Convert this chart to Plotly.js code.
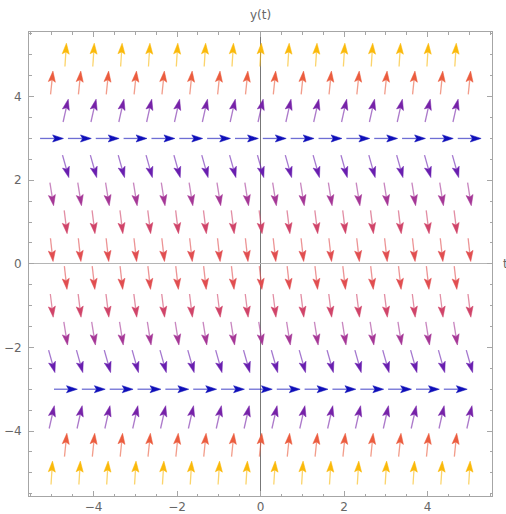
<!DOCTYPE html>
<html>
<head>
<meta charset="utf-8">
<script src="https://cdn.plot.ly/plotly-3.0.1.min.js"></script>
<style>
html,body{margin:0;padding:0;background:#fff;}
#chart{width:506px;height:514px;}
</style>
</head>
<body>
<div id="chart"></div>
<script>
// ---- data ----
// rows of the slope field y' = f(y): row height, slope at that row, staggered (1) or not (0)
const rowY      = [5, 4.333, 3.667, 3, 2.333, 1.667, 1, 0.333, -0.333, -1, -1.667, -2.333, -3, -3.667, -4.333, -5];
const rowSlope  = [16, 9.78, 4.44, 0, -3.56, -6.22, -8, -8.89, -8.89, -8, -6.22, -3.56, 0, 4.44, 9.78, 16];
const rowStagger= [1, 0, 1, 0, 1, 0, 1, 0, 1, 0, 1, 0, 1, 0, 1, 0];
// sample positions along t
const tFull     = [-5, -4.333, -3.667, -3, -2.333, -1.667, -1, -0.333, 0.333, 1, 1.667, 2.333, 3, 3.667, 4.333, 5];
const tShifted  = [-4.667, -4, -3.333, -2.667, -2, -1.333, -0.667, 0, 0.667, 1.333, 2, 2.667, 3.333, 4, 4.667];
// axis ticks
const tickVals  = [-4, -2, 0, 2, 4];

// ---- styles ----
const colorStops = [
  [1.0,  [15, 15, 185]],
  [3.7,  [105, 30, 175]],
  [4.55, [118, 34, 168]],
  [6.3,  [165, 55, 150]],
  [8.06, [208, 68, 105]],
  [8.95, [225, 78, 80]],
  [9.83, [235, 92, 62]],
  [16.03,[250, 185, 10]]
];
function colorFor(m){
  if (m <= colorStops[0][0]) return 'rgb(' + colorStops[0][1].join(',') + ')';
  for (let i = 1; i < colorStops.length; i++){
    if (m <= colorStops[i][0]){
      const a = colorStops[i-1], b = colorStops[i];
      const f = (m - a[0]) / (b[0] - a[0]);
      const c = a[1].map((v, k) => Math.round(v + f * (b[1][k] - v)));
      return 'rgb(' + c.join(',') + ')';
    }
  }
  return 'rgb(' + colorStops[colorStops.length-1][1].join(',') + ')';
}

const L = 0.56, HL = 0.26, HW = 0.085, NOTCH = 0.21;
const traces = [];
rowY.forEach((y, r) => {
  const s = rowSlope[r];
  const mag = Math.sqrt(1 + s * s);
  const ux = 1 / mag, uy = s / mag;
  const nx = -uy, ny = ux;
  const col = colorFor(mag);
  const xs = rowStagger[r] ? tShifted : tFull;
  const sx = [], sy = [], hx = [], hy = [];
  xs.forEach(x => {
    const tipX = x + ux * L / 2, tipY = y + uy * L / 2;
    const tailX = x - ux * L / 2, tailY = y - uy * L / 2;
    const bX = tipX - ux * HL, bY = tipY - uy * HL;
    const nX = tipX - ux * NOTCH, nY = tipY - uy * NOTCH;
    sx.push(tailX, nX, null); sy.push(tailY, nY, null);
    hx.push(tipX, bX + nx * HW, nX, bX - nx * HW, tipX, null);
    hy.push(tipY, bY + ny * HW, nY, bY - ny * HW, tipY, null);
  });
  traces.push({type:'scatter', mode:'lines', x:sx, y:sy, line:{color:col, width:1.3}, opacity:0.6, hoverinfo:'skip', showlegend:false});
  traces.push({type:'scatter', mode:'lines', x:hx, y:hy, fill:'toself', fillcolor:col, line:{color:col, width:0.5}, hoverinfo:'skip', showlegend:false});
});

const axisCommon = {
  showgrid:false, showline:true, linecolor:'#a6a6a6', linewidth:1, mirror:'ticks',
  ticks:'inside', ticklen:5, tickcolor:'#a6a6a6', tickwidth:1,
  tickvals:tickVals, ticktext:tickVals.map(v => v < 0 ? '\u2212' + Math.abs(v) : String(v)),
  minor:{dtick:0.5, ticks:'inside', ticklen:2.5, tickcolor:'#a6a6a6', showgrid:false},
  tickfont:{family:'DejaVu Sans, sans-serif', size:12, color:'#666'},
  zeroline:true, zerolinewidth:1, fixedrange:true
};

const layout = {
  width:506, height:514,
  margin:{l:29, r:14, t:32, b:18},
  paper_bgcolor:'#fff', plot_bgcolor:'#fff',
  showlegend:false,
  xaxis: Object.assign({}, axisCommon, {range:[-5.545, 5.54], zerolinecolor:'#777', ticklabelstandoff:0}),
  yaxis: Object.assign({}, axisCommon, {range:[-5.555, 5.547], zerolinecolor:'#b5b5b5', ticklabelstandoff:4}),
  annotations:[
    {text:'y(t)', xref:'x', x:0, yref:'paper', y:1 + 17/464, xanchor:'center', yanchor:'middle', showarrow:false,
     font:{family:'DejaVu Sans, sans-serif', size:12, color:'#666'}},
    {text:'t', xref:'paper', x:1 + 9/463, yref:'y', y:0, xanchor:'left', yanchor:'middle', showarrow:false,
     font:{family:'DejaVu Sans, sans-serif', size:12, color:'#666'}}
  ]
};

Plotly.newPlot('chart', traces, layout, {staticPlot:true, displayModeBar:false});
</script>
</body>
</html>
